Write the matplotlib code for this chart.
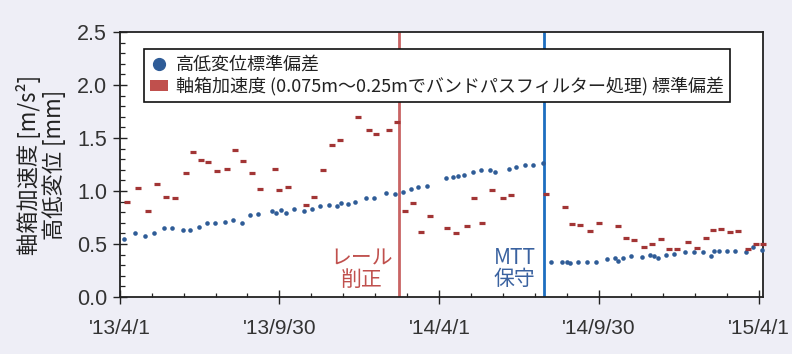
import matplotlib
matplotlib.use("Agg")
import matplotlib.pyplot as plt
import matplotlib.dates as mdates
from matplotlib.lines import Line2D
from matplotlib.patches import Patch
from matplotlib import font_manager
import numpy as np
import pandas as pd

# ---- data -------------------------------------------------------------
accel_dates = [
    "2013-04-09", "2013-04-21", "2013-05-03", "2013-05-13", "2013-05-24",
    "2013-06-03", "2013-06-15", "2013-06-23", "2013-07-02", "2013-07-11",
    "2013-07-21", "2013-08-01", "2013-08-10", "2013-08-20", "2013-08-30",
    "2013-09-08", "2013-09-25", "2013-09-30", "2013-10-10", "2013-10-31",
    "2013-11-09", "2013-11-19", "2013-11-29", "2013-12-08", "2013-12-29",
    "2014-01-10", "2014-01-19", "2014-02-02", "2014-02-11", "2014-02-21",
    "2014-03-02", "2014-03-11", "2014-03-21", "2014-04-10", "2014-04-20",
    "2014-05-02", "2014-05-11", "2014-05-20", "2014-05-31", "2014-06-13",
    "2014-06-22", "2014-08-01", "2014-08-22", "2014-08-31", "2014-09-09",
    "2014-09-20", "2014-09-30", "2014-10-22", "2014-10-31", "2014-11-09",
    "2014-11-21", "2014-11-30", "2014-12-10", "2014-12-19", "2014-12-28",
    "2015-01-10", "2015-01-20", "2015-01-30", "2015-02-08", "2015-02-17",
    "2015-02-27", "2015-03-08", "2015-03-20", "2015-03-29", "2015-04-06",
]
accel_std = [
    0.90, 1.03, 0.81, 1.07, 0.94, 0.93, 1.17, 1.37, 1.29, 1.27,
    1.19, 1.21, 1.39, 1.28, 1.17, 1.02, 1.21, 1.01, 1.04, 0.87,
    0.94, 1.20, 1.43, 1.48, 1.70, 1.58, 1.54, 1.58, 1.65, 0.81,
    0.89, 0.61, 0.76, 0.65, 0.60, 0.67, 0.93, 0.70, 1.01, 0.93,
    0.96, 0.97, 0.85, 0.69, 0.68, 0.62, 0.70, 0.67, 0.56, 0.54,
    0.47, 0.50, 0.55, 0.45, 0.45, 0.52, 0.46, 0.56, 0.63, 0.64,
    0.61, 0.62, 0.45, 0.50, 0.50,
]

level_dates = [
    "2013-04-06", "2013-04-18", "2013-04-29", "2013-05-10", "2013-05-21",
    "2013-05-30", "2013-06-12", "2013-06-20", "2013-06-30", "2013-07-09",
    "2013-07-19", "2013-07-30", "2013-08-08", "2013-08-18", "2013-08-28",
    "2013-09-06", "2013-09-22", "2013-09-26", "2013-10-02", "2013-10-08",
    "2013-10-17", "2013-10-28", "2013-11-06", "2013-11-16", "2013-11-26",
    "2013-12-05", "2013-12-10", "2013-12-17", "2013-12-26", "2014-01-07",
    "2014-01-16", "2014-01-30", "2014-02-09", "2014-02-18", "2014-02-27",
    "2014-03-08", "2014-03-18", "2014-04-08", "2014-04-17", "2014-04-22",
    "2014-04-29", "2014-05-09", "2014-05-18", "2014-05-29", "2014-06-03",
    "2014-06-19", "2014-06-28", "2014-07-08", "2014-07-17", "2014-07-28",
    "2014-08-06", "2014-08-19", "2014-08-25", "2014-08-28", "2014-09-06",
    "2014-09-17", "2014-09-27", "2014-10-09", "2014-10-19", "2014-10-22",
    "2014-10-28", "2014-11-06", "2014-11-18", "2014-11-27", "2014-12-02",
    "2014-12-07", "2014-12-16", "2014-12-25", "2015-01-07", "2015-01-17",
    "2015-01-27", "2015-02-05", "2015-02-09", "2015-02-14", "2015-02-24",
    "2015-03-05", "2015-03-17", "2015-03-25", "2015-04-04",
]
level_std = [
    0.55, 0.60, 0.58, 0.60, 0.65, 0.65, 0.63, 0.63, 0.66, 0.70,
    0.70, 0.71, 0.73, 0.70, 0.77, 0.78, 0.81, 0.79, 0.82, 0.79,
    0.83, 0.81, 0.83, 0.86, 0.87, 0.86, 0.89, 0.88, 0.90, 0.93,
    0.93, 0.98, 0.97, 0.99, 1.02, 1.04, 1.05, 1.12, 1.13, 1.14,
    1.15, 1.18, 1.20, 1.20, 1.18, 1.21, 1.23, 1.25, 1.25, 1.26,
    0.33, 0.33, 0.33, 0.32, 0.33, 0.33, 0.33, 0.36, 0.37, 0.34,
    0.37, 0.39, 0.38, 0.40, 0.39, 0.37, 0.40, 0.41, 0.42, 0.42,
    0.42, 0.39, 0.43, 0.43, 0.43, 0.43, 0.42, 0.47, 0.44,
]

event_dates = ["2014-02-14", "2014-07-29"]
event_labels = ["レール\n削正", "MTT\n保守"]
event_label_dates = ["2014-01-02", "2014-06-26"]

major_tick_dates = ["2013-04-01", "2013-09-30", "2014-04-01", "2014-09-30", "2015-04-01"]
major_tick_labels = ["'13/4/1", "'13/9/30", "'14/4/1", "'14/9/30", "'15/4/1"]
x_range = ["2013-04-01", "2015-04-06"]

legend_labels = ["高低変位標準偏差",
                 "軸箱加速度 (0.075m～0.25mでバンドパスフィルター処理) 標準偏差"]
y_label = "軸箱加速度 [m/s²]\n高低変位 [mm]"

# ---- fonts --------------------------------------------------------------
installed = {f.name for f in font_manager.fontManager.ttflist}
jp = "Noto Sans CJK JP"
num_font = next((n for n in ["Liberation Sans Narrow", "Liberation Sans", "DejaVu Sans"]
                 if n in installed), "DejaVu Sans")
plt.rcParams["font.family"] = [jp, "DejaVu Sans"]

# ---- colours ------------------------------------------------------------
BG = "#EEEEF6"
RED = "#A23535"
RED_LEG = "#C0504D"
BLUE = "#2F5C97"
RED_LINE = "#C96464"
BLUE_LINE = "#1D6EC0"
RED_TXT = "#C0504D"
BLUE_TXT = "#3A62A0"

to_num = lambda seq: mdates.date2num(pd.to_datetime(seq).to_pydatetime())

fig = plt.figure(figsize=(7.92, 3.54), dpi=100, facecolor=BG)
ax = fig.add_axes([120 / 792, 1 - 297 / 354, (763.3 - 120) / 792, (297 - 32) / 354])
ax.set_facecolor("white")

# event lines
for d, c in zip(event_dates, [RED_LINE, BLUE_LINE]):
    ax.axvline(to_num([d])[0], color=c, lw=2.0, zorder=2)

# series
ax.plot(to_num(level_dates), level_std, ls="none", marker="o", ms=3.3,
        mfc=BLUE, mec=BLUE, mew=0, zorder=3, clip_on=False)
ax.plot(to_num(accel_dates), accel_std, ls="none", marker="_", ms=5.0,
        mec=RED, mew=2.3, zorder=3, clip_on=False)

# event labels
for d, t, c in zip(event_label_dates, event_labels, [RED_TXT, BLUE_TXT]):
    ax.text(to_num([d])[0], 0.265, t, color=c, ha="center", va="center",
            fontsize=15, linespacing=0.95, family=[jp, "DejaVu Sans"])

# axes ranges
ax.set_xlim(to_num(x_range))
ax.set_ylim(0, 2.5)

# x ticks: five subdivisions between each labelled date
majors = to_num(major_tick_dates)
minors = np.concatenate([np.linspace(a, b, 6)[1:-1] for a, b in zip(majors[:-1], majors[1:])])
ax.set_xticks(majors)
ax.set_xticklabels(major_tick_labels, family=num_font, fontsize=15)
ax.set_xticks(minors, minor=True)

ax.set_yticks(np.arange(0, 2.51, 0.5))
ax.set_yticklabels([f"{v:.1f}" for v in np.arange(0, 2.51, 0.5)], family=num_font, fontsize=15.5)
ax.set_yticks(np.arange(0, 2.51, 0.1), minor=True)

ax.tick_params(axis="both", which="major", direction="inout", length=9.5, width=1.0,
               color="#222222", labelcolor="#333333")
ax.tick_params(axis="y", which="major", pad=4.5)
ax.tick_params(axis="x", which="major", pad=11)
ax.tick_params(axis="y", which="minor", direction="in", length=3.6, width=0.9, color="#222222")
ax.tick_params(axis="x", which="minor", direction="in", length=2.9, width=0.9, color="#222222")

for s in ax.spines.values():
    s.set_color("#222222")
    s.set_linewidth(1.3)

ax.set_ylabel(y_label, fontsize=16, linespacing=1.08, labelpad=8, color="#222222")

# legend
handles = [
    Line2D([], [], ls="none", marker="o", ms=8.5, mfc=BLUE, mec=BLUE),
    Patch(facecolor=RED_LEG, edgecolor="none"),
]
leg = ax.legend(handles, legend_labels, loc="upper left",
                bbox_to_anchor=((144 - 120) / 643.3, (297 - 49) / 265),
                borderaxespad=0, frameon=True, fancybox=False, framealpha=1,
                fontsize=13, handlelength=1.0, handleheight=0.5,
                handletextpad=0.4, labelspacing=0.2, borderpad=0.35)
leg.get_frame().set_edgecolor("#111111")
leg.get_frame().set_linewidth(1.2)
for t in leg.get_texts():
    t.set_color("#222222")

fig.savefig("out.png", dpi=100, facecolor=BG)
